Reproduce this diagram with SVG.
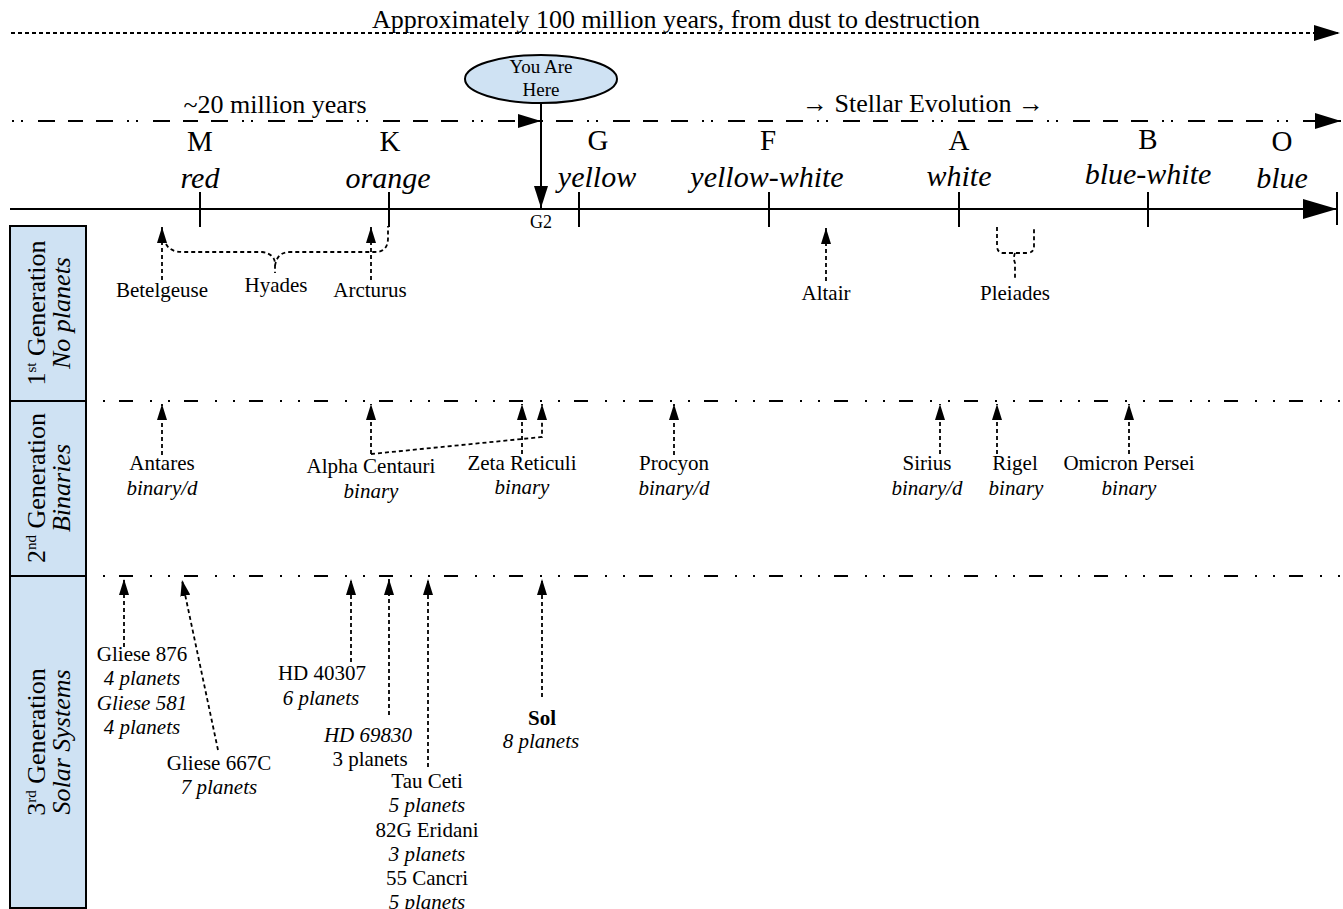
<svg xmlns="http://www.w3.org/2000/svg" width="1343" height="909" viewBox="0 0 1343 909">
<style>
text{font-family:"Liberation Serif","Times New Roman",serif;fill:#000}
.t26{font-size:26px;text-anchor:middle}
.let{font-size:29px;text-anchor:middle}
.col{font-size:30px;font-style:italic;text-anchor:middle}
.lbl{font-size:21px;text-anchor:middle}
.it{font-style:italic}
.bd{font-weight:bold}
.side{font-size:26px;text-anchor:middle}
.sup{font-size:15px}
.dash{fill:none;stroke:#000;stroke-width:1.8;stroke-dasharray:4 3}
.sep{fill:none;stroke:#000;stroke-width:2;stroke-dasharray:14 17 2 16 2 14;stroke-dashoffset:47}
.solid{fill:none;stroke:#000;stroke-width:2}
.panel{fill:#cfe2f3;stroke:#000;stroke-width:2}
</style>
<defs>
<marker id="ah" viewBox="0 0 16 10" refX="16" refY="5" markerWidth="16" markerHeight="10" markerUnits="userSpaceOnUse" orient="auto"><path d="M0,0 L16,5 L0,10 z" fill="#000"/></marker>
<marker id="ahBig" viewBox="0 0 34 20" refX="34" refY="10" markerWidth="34" markerHeight="20" markerUnits="userSpaceOnUse" orient="auto"><path d="M0,0 L34,10 L0,20 z" fill="#000"/></marker>
<marker id="ahMid" viewBox="0 0 26 16" refX="26" refY="8" markerWidth="26" markerHeight="16" markerUnits="userSpaceOnUse" orient="auto"><path d="M0,0 L26,8 L0,16 z" fill="#000"/></marker>
<marker id="ahYou" viewBox="0 0 22 14" refX="22" refY="7" markerWidth="22" markerHeight="14" markerUnits="userSpaceOnUse" orient="auto"><path d="M0,0 L22,7 L0,14 z" fill="#000"/></marker>
</defs>

<g id="timeline">
<text class="t26" x="676" y="28">Approximately 100 million years, from dust to destruction</text>
<line x1="11" y1="33" x2="1340" y2="33" style="fill:none;stroke:#000;stroke-width:2;stroke-dasharray:4 3" marker-end="url(#ahMid)"/>
<text class="t26" x="275" y="113">~20 million years</text>
<text class="t26" x="923" y="112">→ Stellar Evolution →</text>
<line x1="10" y1="121" x2="1341" y2="121" style="fill:none;stroke:#000;stroke-width:2;stroke-dasharray:2 7 2 15 17 13 15 13 17 14;stroke-dashoffset:113" marker-end="url(#ahMid)"/>
<path d="M518,114 L541,121 L518,128 z" fill="#000"/>
</g>

<g id="axis">
<line x1="10" y1="209" x2="1337" y2="209" class="solid" marker-end="url(#ahBig)"/>
<line x1="1337" y1="192" x2="1337" y2="225" class="solid"/>
<line x1="200" y1="192" x2="200" y2="227" class="solid"/>
<line x1="389" y1="192" x2="389" y2="227" class="solid"/>
<line x1="579" y1="192" x2="579" y2="227" class="solid"/>
<line x1="769" y1="192" x2="769" y2="227" class="solid"/>
<line x1="959" y1="192" x2="959" y2="227" class="solid"/>
<line x1="1148" y1="192" x2="1148" y2="227" class="solid"/>
<text class="let" x="200" y="151">M</text><text class="col" x="200" y="188">red</text>
<text class="let" x="390" y="151">K</text><text class="col" x="388" y="188">orange</text>
<text class="let" x="598" y="150">G</text><text class="col" x="597" y="187">yellow</text>
<text class="let" x="768" y="150">F</text><text class="col" x="767" y="187">yellow-white</text>
<text class="let" x="959" y="150">A</text><text class="col" x="959" y="186">white</text>
<text class="let" x="1148" y="149">B</text><text class="col" x="1148" y="184">blue-white</text>
<text class="let" x="1282" y="151">O</text><text class="col" x="1282" y="188">blue</text>
<text class="lbl" x="541" y="228" style="font-size:18px">G2</text>
</g>

<g id="you-are-here">
<ellipse cx="541" cy="79" rx="76" ry="24" class="panel"/>
<text class="lbl" x="541" y="73" style="font-size:19px">You Are</text>
<text class="lbl" x="541" y="96" style="font-size:19px">Here</text>
</g>

<g id="panel-1">
<rect x="10" y="226" width="76" height="175" class="panel"/>
<text class="side" transform="translate(45,313) rotate(-90)">1<tspan class="sup" dy="-9">st</tspan><tspan dy="9"> Generation</tspan></text>
<text class="side it" transform="translate(70,313) rotate(-90)">No planets</text>
</g>
<g id="panel-2">
<rect x="10" y="401" width="76" height="175" class="panel"/>
<text class="side" transform="translate(45,488) rotate(-90)">2<tspan class="sup" dy="-9">nd</tspan><tspan dy="9"> Generation</tspan></text>
<text class="side it" transform="translate(70,488) rotate(-90)">Binaries</text>
</g>
<g id="panel-3">
<rect x="10" y="576" width="76" height="332" class="panel"/>
<text class="side" transform="translate(45,742) rotate(-90)">3<tspan class="sup" dy="-9">rd</tspan><tspan dy="9"> Generation</tspan></text>
<text class="side it" transform="translate(70,742) rotate(-90)">Solar Systems</text>
</g>

<g id="separators">
<line x1="101" y1="401" x2="1343" y2="401" class="sep"/>
<line x1="101" y1="576" x2="1343" y2="576" class="sep"/>
</g>

<g id="connectors">
<line x1="541" y1="103" x2="541" y2="208" class="solid" marker-end="url(#ahYou)"/>
<!-- 1st generation -->
<line x1="162" y1="280" x2="162" y2="227" class="dash" marker-end="url(#ah)"/>
<line x1="371" y1="280" x2="371" y2="227" class="dash" marker-end="url(#ah)"/>
<line x1="826" y1="281" x2="826" y2="228" class="dash" marker-end="url(#ah)"/>
<path d="M166,244 Q170,252 183,252 L262,252 Q275,254 275,264 L275,273 M275,266 Q277,252 290,252 L375,252 Q388,252 388,238 L388,226" class="dash"/>
<path d="M997,227 L997,246 Q997,253 1004,253 L1027,253 Q1034,253 1034,246 L1034,227 M1015,253 Q1013,258 1015,263 L1015,279" class="dash"/>
<!-- 2nd generation -->
<line x1="162" y1="455" x2="162" y2="404" class="dash" marker-end="url(#ah)"/>
<polyline points="371,454 371,404" class="dash" marker-end="url(#ah)"/>
<polyline points="371,454 542,437 542,404" class="dash" marker-end="url(#ah)"/>
<line x1="522" y1="454" x2="522" y2="404" class="dash" marker-end="url(#ah)"/>
<line x1="674" y1="455" x2="674" y2="404" class="dash" marker-end="url(#ah)"/>
<line x1="940" y1="454" x2="940" y2="404" class="dash" marker-end="url(#ah)"/>
<line x1="997" y1="454" x2="997" y2="404" class="dash" marker-end="url(#ah)"/>
<line x1="1129" y1="454" x2="1129" y2="404" class="dash" marker-end="url(#ah)"/>
<!-- 3rd generation -->
<line x1="124" y1="647" x2="124" y2="579" class="dash" marker-end="url(#ah)"/>
<line x1="218" y1="750" x2="182" y2="580" class="dash" marker-end="url(#ah)"/>
<line x1="351" y1="662" x2="351" y2="579" class="dash" marker-end="url(#ah)"/>
<line x1="389" y1="715" x2="389" y2="579" class="dash" marker-end="url(#ah)"/>
<line x1="428" y1="767" x2="428" y2="579" class="dash" marker-end="url(#ah)"/>
<line x1="542" y1="697" x2="542" y2="579" class="dash" marker-end="url(#ah)"/>
</g>

<g id="gen1-labels">
<text class="lbl" x="162" y="297">Betelgeuse</text>
<text class="lbl" x="276" y="292">Hyades</text>
<text class="lbl" x="370" y="297">Arcturus</text>
<text class="lbl" x="826" y="300">Altair</text>
<text class="lbl" x="1015" y="300">Pleiades</text>
</g>

<g id="gen2-labels">
<text class="lbl" x="162" y="470">Antares</text><text class="lbl it" x="162" y="495">binary/d</text>
<text class="lbl" x="371" y="473">Alpha Centauri</text><text class="lbl it" x="371" y="498">binary</text>
<text class="lbl" x="522" y="470">Zeta Reticuli</text><text class="lbl it" x="522" y="494">binary</text>
<text class="lbl" x="674" y="470">Procyon</text><text class="lbl it" x="674" y="495">binary/d</text>
<text class="lbl" x="927" y="470">Sirius</text><text class="lbl it" x="927" y="495">binary/d</text>
<text class="lbl" x="1015" y="470">Rigel</text><text class="lbl it" x="1016" y="495">binary</text>
<text class="lbl" x="1129" y="470">Omicron Persei</text><text class="lbl it" x="1129" y="495">binary</text>
</g>

<g id="gen3-labels">
<text class="lbl" x="142" y="661">Gliese 876</text>
<text class="lbl it" x="142" y="685">4 planets</text>
<text class="lbl it" x="142" y="710">Gliese 581</text>
<text class="lbl it" x="142" y="734">4 planets</text>
<text class="lbl" x="219" y="770">Gliese 667C</text>
<text class="lbl it" x="219" y="794">7 planets</text>
<text class="lbl" x="322" y="680">HD 40307</text>
<text class="lbl it" x="321" y="705">6 planets</text>
<text class="lbl it" x="368" y="742">HD 69830</text>
<text class="lbl" x="370" y="766">3 planets</text>
<text class="lbl" x="427" y="788">Tau Ceti</text>
<text class="lbl it" x="427" y="812">5 planets</text>
<text class="lbl" x="427" y="837">82G Eridani</text>
<text class="lbl it" x="427" y="861">3 planets</text>
<text class="lbl" x="427" y="885">55 Cancri</text>
<text class="lbl it" x="427" y="909">5 planets</text>
<text class="lbl bd" x="542" y="725">Sol</text>
<text class="lbl it" x="541" y="748">8 planets</text>
</g>
</svg>
